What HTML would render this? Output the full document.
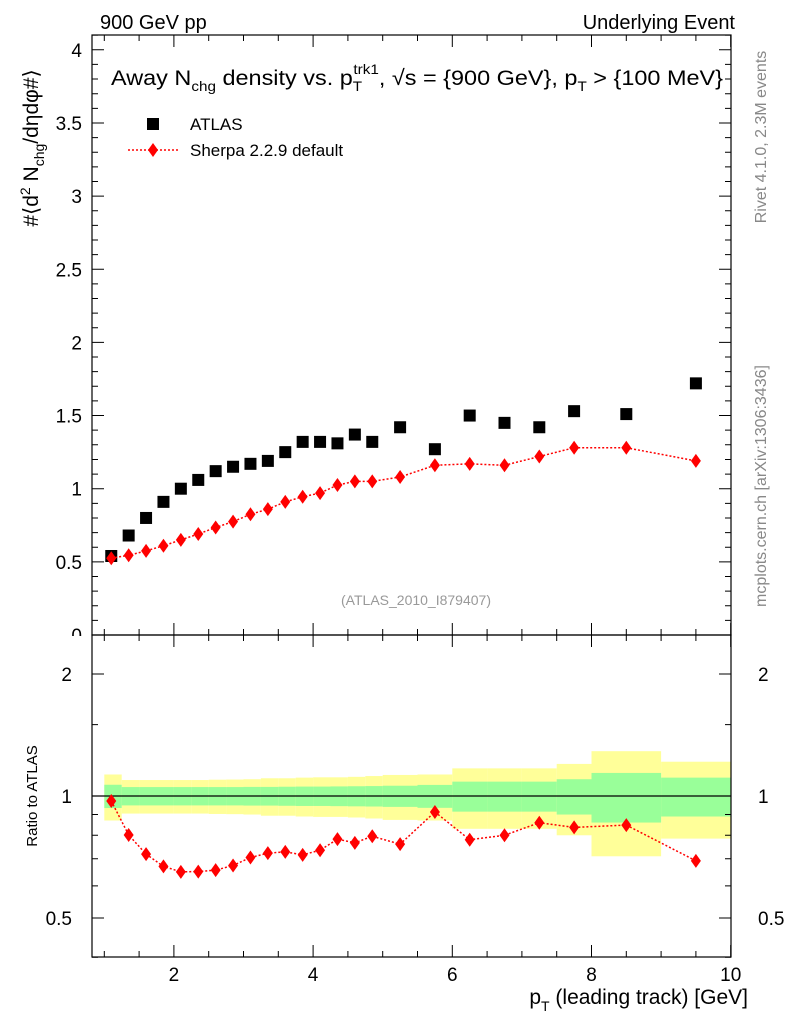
<!DOCTYPE html>
<html><head><meta charset="utf-8"><style>
body{margin:0;background:#fff;}
svg{display:block;font-family:"Liberation Sans",sans-serif;}
</style></head><body>
<svg id="c" width="786" height="1024" viewBox="0 0 786 1024">
<text x="100" y="29" font-size="20">900 GeV pp</text>
<text x="735" y="29" font-size="20" text-anchor="end">Underlying Event</text>
<text x="111" y="85" font-size="21.5" textLength="612" lengthAdjust="spacingAndGlyphs">Away N<tspan font-size="14" dy="6">chg</tspan><tspan dy="-6"> density vs. p</tspan><tspan font-size="14" dy="6">T</tspan><tspan font-size="14" dx="-8" dy="-17">trk1</tspan><tspan dy="11">, √s = {900 GeV}, p</tspan><tspan font-size="14" dy="6">T</tspan><tspan dy="-6"> &gt; {100 MeV}</tspan></text>
<rect x="147" y="118" width="12" height="12" fill="#000"/>
<text x="190" y="130" font-size="17">ATLAS</text>
<line x1="128" y1="150" x2="178" y2="150" stroke="red" stroke-width="1.5" stroke-dasharray="2,2"/>
<path d="M153 143 L158 150 L153 157 L148 150Z" fill="red"/>
<text x="190" y="156" font-size="17">Sherpa 2.2.9 default</text>
<text x="416" y="605" font-size="14" fill="#999" text-anchor="middle">(ATLAS_2010_I879407)</text>
<text transform="translate(38,148) rotate(-90)" font-size="21" text-anchor="middle">#⟨d<tspan font-size="14" dy="-8">2</tspan><tspan dy="8"> N</tspan><tspan font-size="14" dy="6">chg</tspan><tspan dy="-6">/dηdφ#⟩</tspan></text>
<text transform="translate(37,796) rotate(-90)" font-size="15" text-anchor="middle">Ratio to ATLAS</text>
<text transform="translate(766,137) rotate(-90)" font-size="16" fill="#888" text-anchor="middle">Rivet 4.1.0,  2.3M events</text>
<text transform="translate(766,486) rotate(-90)" font-size="16" fill="#888" text-anchor="middle">mcplots.cern.ch [arXiv:1306:3436]</text>
<text x="748" y="1004" font-size="21" text-anchor="end">p<tspan font-size="14" dy="7">T</tspan><tspan dy="-7"> (leading track) [GeV]</tspan></text>
<g id="g"></g>
</svg>
<script>
const xCenters=[1.1,1.35,1.6,1.85,2.1,2.35,2.6,2.85,3.1,3.35,3.6,3.85,4.1,4.35,4.6,4.85,5.25,5.75,6.25,6.75,7.25,7.75,8.5,9.5];
const binEdges=[1,1.25,1.5,1.75,2,2.25,2.5,2.75,3,3.25,3.5,3.75,4,4.25,4.5,4.75,5,5.5,6,6.5,7,7.5,8,9,10];
const atlas=[0.54,0.68,0.80,0.91,1.00,1.06,1.12,1.15,1.17,1.19,1.25,1.32,1.32,1.31,1.37,1.32,1.42,1.27,1.50,1.45,1.42,1.53,1.51,1.72];
const sherpa=[0.525,0.545,0.575,0.61,0.65,0.69,0.735,0.775,0.825,0.86,0.91,0.945,0.97,1.025,1.05,1.05,1.08,1.16,1.17,1.16,1.22,1.28,1.28,1.19];
const statErr=[0.066,0.052,0.052,0.052,0.052,0.052,0.052,0.052,0.053,0.053,0.054,0.055,0.055,0.056,0.057,0.058,0.06,0.065,0.085,0.085,0.085,0.10,0.14,0.11];
const totErr=[0.13,0.095,0.095,0.095,0.095,0.095,0.097,0.098,0.10,0.106,0.106,0.11,0.112,0.112,0.115,0.12,0.127,0.13,0.17,0.17,0.17,0.20,0.29,0.215];
const xTicks=[2,4,6,8,10];
const yTicks=[0,0.5,1,1.5,2,2.5,3,3.5,4];
const rTicks=[0.5,1,2];
const NS='http://www.w3.org/2000/svg';
const g=document.getElementById('g');
const L=92,R=731,T=35,M=635,B=957;
const X=v=>34.7+69.6*v;
const Y=v=>635-146.3*v;
const RY=v=>796-122*Math.log2(v);
function mk(t,a,p){const e=document.createElementNS(NS,t);for(const k in a)e.setAttribute(k,a[k]);(p||g).appendChild(e);return e;}
binEdges.slice(0,-1).forEach((x0,i)=>{
 const x1=binEdges[i+1];
 const y=mk('rect',{x:X(x0),y:RY(1+totErr[i]),width:X(x1)-X(x0),height:RY(1-totErr[i])-RY(1+totErr[i]),fill:'#ffff99'});
 
 
});
binEdges.slice(0,-1).forEach((x0,i)=>{
 const x1=binEdges[i+1];
 const r=mk('rect',{x:X(x0),y:RY(1+statErr[i]),width:X(x1)-X(x0),height:RY(1-statErr[i])-RY(1+statErr[i]),fill:'#99ff99'});
 
 
});
const one=mk('line',{x1:L,x2:R,y1:RY(1),y2:RY(1),stroke:'#000','stroke-width':1.3});


const f1=mk('rect',{x:L,y:T,width:R-L,height:M-T,fill:'none',stroke:'#000','stroke-width':1.2});


const f2=mk('rect',{x:L,y:M,width:R-L,height:B-M,fill:'none',stroke:'#000','stroke-width':1.2});


let tp='';
for(let v=1;v<=10.001;v+=0.5){const x=X(v);const maj=Math.abs(v-Math.round(v/2)*2)<1e-6;const l=maj?12:6;
 tp+=`M${x} ${T}v${l}M${x} ${M}v${-l}M${x} ${M}v${l}M${x} ${B}v${-l}`;}
for(let i=0;i<=41;i++){const v=i*0.1;const y=Y(v);if(y<T)continue;const l=(i%5==0)?12:6;tp+=`M${L} ${y}h${l}M${R} ${y}h${-l}`;}
[0.4,0.5,0.6,0.7,0.8,0.9,1,1.5,2].forEach(v=>{const y=RY(v);const l=rTicks.includes(v)?12:6;tp+=`M${L} ${y}h${l}M${R} ${y}h${-l}`;});
const tk=mk('path',{d:tp,stroke:'#000','stroke-width':1,fill:'none'});


xTicks.forEach(v=>{const t=mk('text',{x:X(v),y:981,'font-size':19,'text-anchor':'middle'});t.textContent=v;
 
 });
yTicks.forEach(v=>{const t=mk('text',{x:82,y:Y(v)+7,'font-size':19,'text-anchor':'end'});t.textContent=v;
 
 });
rTicks.forEach(v=>{[[72,'end'],[758,'start']].forEach(([x,a])=>{const t=mk('text',{x:x,y:RY(v)+7,'font-size':19,'text-anchor':a});t.textContent=v;
 
 });});
mk('rect',{x:60,y:M+1,width:30,height:10,fill:'#fff'});
atlas.forEach((v,i)=>{const r=mk('rect',{x:X(xCenters[i])-6,y:Y(v)-6,width:12,height:12,fill:'#000'});
 
 });
function series(ys,yf,name){
 const pl=mk('polyline',{points:ys.map((v,i)=>X(xCenters[i])+','+yf(v)).join(' '),fill:'none',stroke:'red','stroke-width':1.5,'stroke-dasharray':'2,2'});
 
 
 ys.forEach((v,i)=>{const x=X(xCenters[i]),y=yf(v);
  const p=mk('path',{d:`M${x} ${y-7}L${x+5} ${y}L${x} ${y+7}L${x-5} ${y}Z`,fill:'red'});
  
  });
}
series(sherpa,Y,'sherpa');
series(sherpa.map((v,i)=>v/atlas[i]),RY,'sherpa-ratio');
</script>
</body></html>
